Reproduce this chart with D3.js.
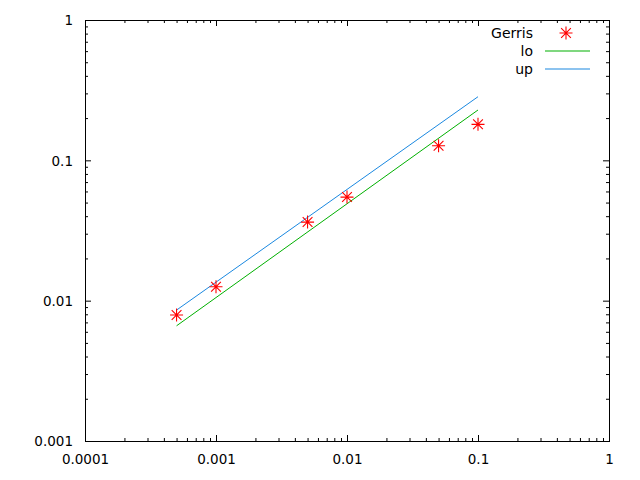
<!DOCTYPE html>
<html>
<head>
<meta charset="utf-8">
<script src="https://cdn.jsdelivr.net/npm/d3@7/dist/d3.min.js"></script>
<style>
  html, body { margin: 0; padding: 0; background: #fff; }
  svg { display: block; }
  text { font-family: "DejaVu Sans", sans-serif; }
</style>
</head>
<body>
<script>
// ---- data ----
const gerrisX = [0.0005, 0.001, 0.005, 0.01, 0.05, 0.1];
const gerrisY = [0.0079, 0.01256, 0.0363, 0.0547, 0.127, 0.1805];
const loX = [0.0005, 0.1];
const loY = [0.00662, 0.2284];
const upX = [0.0005, 0.1];
const upY = [0.00857, 0.284];
const xTicks = [0.0001, 0.001, 0.01, 0.1, 1];
const xTickLabels = ["0.0001", "0.001", "0.01", "0.1", "1"];
const yTicks = [0.001, 0.01, 0.1, 1];
const yTickLabels = ["0.001", "0.01", "0.1", "1"];
const seriesNames = ["Gerris", "lo", "up"];
const colors = { Gerris: "#ff0000", lo: "#00b000", up: "#1a88e0" };

const W = 640, H = 480;
const m = { left: 85, right: 31, top: 20, bottom: 39 };
const pw = W - m.left - m.right, ph = H - m.top - m.bottom;
const FONT = "13.5px", LFONT = "14px";

const svg = d3.select("body").append("svg").attr("width", W).attr("height", H);
const g = svg.append("g").attr("transform", `translate(${m.left},${m.top})`);

const x = d3.scaleLog().domain([0.0001, 1]).range([0, pw]);
const y = d3.scaleLog().domain([0.001, 1]).range([ph, 0]);

function minors(lo, hi) {
  const out = [];
  for (let e = Math.round(Math.log10(lo)); e < Math.round(Math.log10(hi)); e++)
    for (let k = 2; k <= 9; k++) out.push(k * Math.pow(10, e));
  return out;
}
const xMinor = minors(0.0001, 1), yMinor = minors(0.001, 1);

const MAJ = 6, MIN = 3;
function styleAxis(sel) {
  sel.select(".domain").remove();
  sel.selectAll(".tick line").attr("stroke", "#000").attr("stroke-width", 1);
}
// bottom
g.append("g").attr("transform", `translate(0,${ph})`)
  .call(d3.axisBottom(x).tickValues(xTicks).tickSize(-MAJ).tickFormat((d, i) => xTickLabels[i]))
  .call(styleAxis)
  .call(s => s.selectAll("text").attr("y", 23).attr("dy", null).attr("fill", "#000")
    .style("font-size", FONT).style("font-family", "'DejaVu Sans', sans-serif"));
g.append("g").attr("transform", `translate(0,${ph})`)
  .call(d3.axisBottom(x).tickValues(xMinor).tickSize(-MIN).tickFormat(""))
  .call(styleAxis);
// top
g.append("g")
  .call(d3.axisTop(x).tickValues(xTicks).tickSize(-MAJ).tickFormat(""))
  .call(styleAxis);
g.append("g")
  .call(d3.axisTop(x).tickValues(xMinor).tickSize(-MIN).tickFormat(""))
  .call(styleAxis);
// left
g.append("g")
  .call(d3.axisLeft(y).tickValues(yTicks).tickSize(-MAJ).tickFormat((d, i) => yTickLabels[i]))
  .call(styleAxis)
  .call(s => s.selectAll("text").attr("x", -12).attr("dy", "0.36em").attr("fill", "#000")
    .style("font-size", FONT).style("font-family", "'DejaVu Sans', sans-serif"));
g.append("g")
  .call(d3.axisLeft(y).tickValues(yMinor).tickSize(-MIN).tickFormat(""))
  .call(styleAxis);
// right
g.append("g").attr("transform", `translate(${pw},0)`)
  .call(d3.axisRight(y).tickValues(yTicks).tickSize(-MAJ).tickFormat(""))
  .call(styleAxis);
g.append("g").attr("transform", `translate(${pw},0)`)
  .call(d3.axisRight(y).tickValues(yMinor).tickSize(-MIN).tickFormat(""))
  .call(styleAxis);

// frame
g.append("rect").attr("x", 0.5).attr("y", 0.5).attr("width", pw).attr("height", ph)
  .attr("fill", "none").attr("stroke", "#000").attr("stroke-width", 1);

// lines
const line = d3.line().x(d => x(d[0])).y(d => y(d[1]));
g.append("path").datum(loX.map((v, i) => [v, loY[i]]))
  .attr("d", line).style("fill", "none").style("stroke", colors.lo).style("stroke-width", 1);
g.append("path").datum(upX.map((v, i) => [v, upY[i]]))
  .attr("d", line).style("fill", "none").style("stroke", colors.up).style("stroke-width", 1);

// star marker
const R = 6.5;
function star(sel, cx, cy) {
  const d = R * 0.75;
  const p = `M${cx - R},${cy}L${cx + R},${cy}M${cx},${cy - R}L${cx},${cy + R}` +
            `M${cx - d},${cy - d}L${cx + d},${cy + d}M${cx - d},${cy + d}L${cx + d},${cy - d}`;
  sel.append("path").attr("d", p).style("stroke", colors.Gerris).style("stroke-width", 1.1).style("fill", "none");
}
gerrisX.forEach((v, i) => star(g, x(v), y(gerrisY[i])));

// legend
const lg = svg.append("g");
const legendY = [33, 51, 69];
const textRight = 533, sampleL = 545, sampleR = 590;
seriesNames.forEach((name, i) => {
  lg.append("text").attr("x", textRight).attr("y", legendY[i]).attr("dy", "0.36em")
    .attr("text-anchor", "end").attr("fill", "#000").style("font-size", LFONT).text(name);
  if (name === "Gerris") star(lg, 566, legendY[i]);
  else lg.append("path")
    .attr("d", `M${sampleL},${legendY[i]}H${sampleR}`)
    .style("stroke", colors[name]).style("stroke-width", 1.2).style("fill", "none");
});
</script>
</body>
</html>
